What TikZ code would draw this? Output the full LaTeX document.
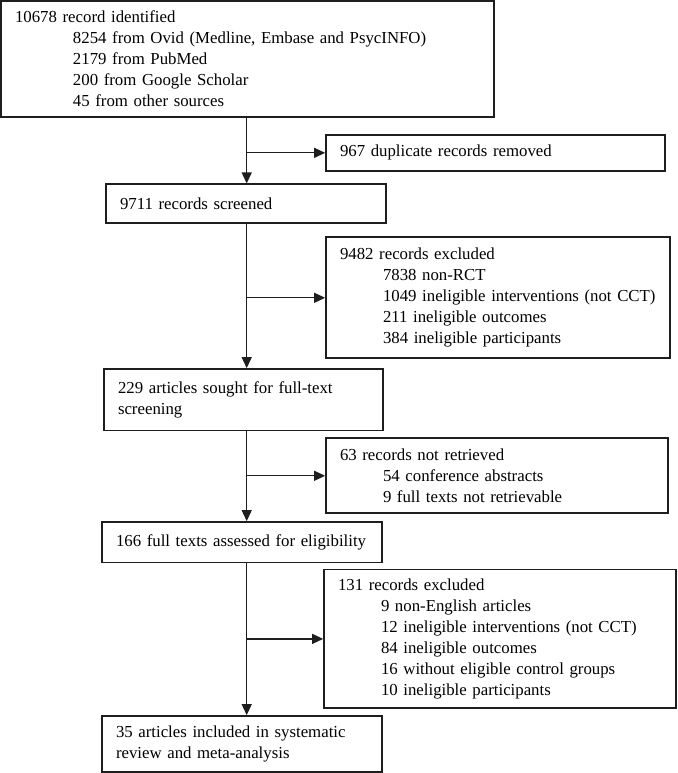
\documentclass[tikz,border=0pt]{standalone}
\usepackage{fontspec}
\setmainfont{Liberation Serif}
\usetikzlibrary{arrows.meta}
\definecolor{ink}{HTML}{1E1E1E}
\tikzset{
  box/.style={draw=ink, line width=1.7pt, align=left, inner xsep=14pt, inner ysep=0pt,
    font=\fontsize{16.8pt}{21pt}\selectfont, text=black},
  conn/.style={draw=ink, line width=1.2pt, -{Triangle[length=11pt,width=10pt]}},
  trunk/.style={draw=ink, line width=1.2pt}
}
\newcommand{\ind}[1]{\hspace*{#1pt}}
\begin{document}
\begin{tikzpicture}[x=1pt,y=-1pt]
\useasboundingbox (0,0) rectangle (677,773);
% boxes: center (cx,cy), width W, height H
\node[box, minimum width=493pt, minimum height=115.7pt, text width=465pt] (b1) at (247.5,58.85)
 {10678 record identified\\
  \ind{58}8254 from Ovid (Medline, Embase and PsycINFO)\\
  \ind{58}2179 from PubMed\\
  \ind{58}200 from Google Scholar\\
  \ind{58}45 from other sources};
\node[box, minimum width=339pt, minimum height=35.7pt, text width=311pt] (dup) at (495.5,152.85)
 {967 duplicate records removed};
\node[box, minimum width=280pt, minimum height=39pt, text width=252pt] (b2) at (246,203.8)
 {9711 records screened};
\node[box, minimum width=344pt, minimum height=121pt, text width=316pt] (ex1) at (498,297.8)
 {9482 records excluded\\
  \ind{43}7838 non-RCT\\
  \ind{43}1049 ineligible interventions (not CCT)\\
  \ind{43}211 ineligible outcomes\\
  \ind{43}384 ineligible participants};
\node[box, minimum width=279.3pt, minimum height=61.5pt, text width=251.3pt] (b3) at (243.65,399.75)
 {229 articles sought for full-text\\screening};
\node[box, minimum width=342pt, minimum height=75pt, text width=314pt] (nr) at (497,475.8)
 {63 records not retrieved\\
  \ind{43}54 conference abstracts\\
  \ind{43}9 full texts not retrievable};
\node[box, minimum width=280pt, minimum height=40.5pt, text width=252pt] (b4) at (242,542.25)
 {166 full texts assessed for eligibility};
\node[box, minimum width=352pt, minimum height=138.8pt, text width=324pt] (ex2) at (500,638.9)
 {131 records excluded\\
  \ind{43}9 non-English articles\\
  \ind{43}12 ineligible interventions (not CCT)\\
  \ind{43}84 ineligible outcomes\\
  \ind{43}16 without eligible control groups\\
  \ind{43}10 ineligible participants};
\node[box, minimum width=280pt, minimum height=55.7pt, text width=252pt] (b5) at (242,743.85)
 {35 articles included in systematic\\review and meta-analysis};
% trunk x position
\coordinate (tx) at (246.7,0);
% main flow
\draw[conn] (b1.south -| tx) -- (b2.north -| tx);
\draw[conn] (b2.south -| tx) -- (b3.north -| tx);
\draw[conn] (b3.south -| tx) -- (b4.north -| tx);
\draw[conn] (b4.south -| tx) -- (b5.north -| tx);
% branches
\draw[conn] (tx |- dup.west) -- (dup.west);
\draw[conn] (tx |- ex1.west) -- (ex1.west);
\draw[conn] (tx |- nr.west) -- (nr.west);
\draw[conn] (tx |- ex2.west) -- (ex2.west);
\end{tikzpicture}
\end{document}
